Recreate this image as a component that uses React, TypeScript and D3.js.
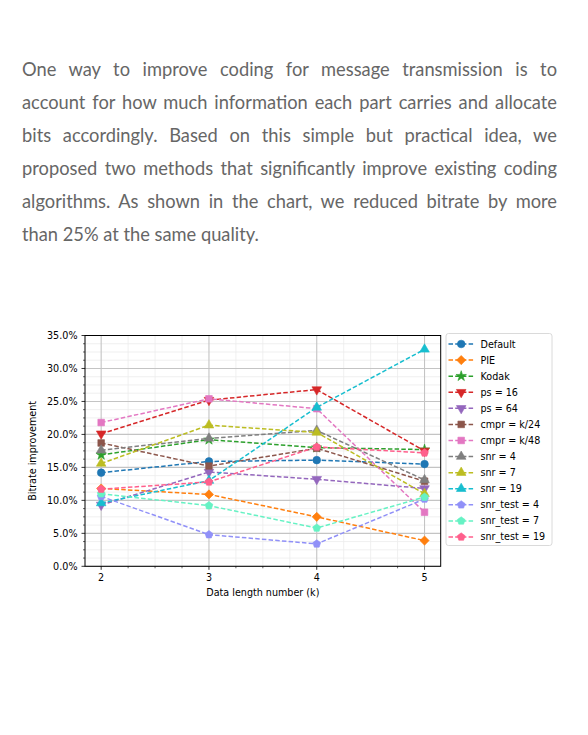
import React from "react";
import * as d3 from "d3";

const xValues = [2, 3, 4, 5];
const xTicks = [2, 3, 4, 5];
const yTicks = [0, 5, 10, 15, 20, 25, 30, 35];

const seriesNames = [
  "Default", "PIE", "Kodak", "ps = 16", "ps = 64", "cmpr = k/24", "cmpr = k/48",
  "snr = 4", "snr = 7", "snr = 19", "snr_test = 4", "snr_test = 7", "snr_test = 19",
];
const defaultVals = [14.2, 15.9, 16.1, 15.5];
const pieVals = [11.8, 10.9, 7.5, 3.9];
const kodakVals = [16.9, 19.2, 18.0, 17.7];
const ps16Vals = [20.1, 25.2, 26.8, 17.5];
const ps64Vals = [9.3, 14.3, 13.2, 11.8];
const cmpr24Vals = [18.7, 15.2, 17.9, 12.9];
const cmpr48Vals = [21.8, 25.4, 23.9, 8.2];
const snr4Vals = [17.6, 19.4, 20.6, 13.1];
const snr7Vals = [15.6, 21.4, 20.3, 11.0];
const snr19Vals = [9.6, 13.0, 24.1, 32.9];
const snrTest4Vals = [10.6, 4.8, 3.4, 10.2];
const snrTest7Vals = [11.0, 9.2, 5.8, 10.5];
const snrTest19Vals = [11.7, 12.8, 18.1, 17.2];

const seriesValues = [
  defaultVals, pieVals, kodakVals, ps16Vals, ps64Vals, cmpr24Vals, cmpr48Vals,
  snr4Vals, snr7Vals, snr19Vals, snrTest4Vals, snrTest7Vals, snrTest19Vals,
];
const seriesColors = [
  "#1f77b4", "#ff7f0e", "#2ca02c", "#d62728", "#9467bd", "#8c564b", "#e377c2",
  "#7f7f7f", "#bcbd22", "#17becf", "#9090f8", "#66f2c4", "#ff5f8c",
];
const seriesMarkers = [
  "circle", "diamond", "star", "tri-down", "tri-down", "square", "square",
  "tri-up", "tri-up", "tri-up", "pentagon", "pentagon", "pentagon",
];

const paragraphLines = [
  "One way to improve coding for message transmission is to",
  "account for how much information each part carries and allocate",
  "bits accordingly. Based on this simple but practical idea, we",
  "proposed two methods that significantly improve existing coding",
  "algorithms. As shown in the chart, we reduced bitrate by more",
  "than 25% at the same quality.",
];

function pentagonPath(r: number) {
  const pts: string[] = [];
  for (let i = 0; i < 5; i++) {
    const a = -Math.PI / 2 + (i * 2 * Math.PI) / 5;
    pts.push(`${(r * Math.cos(a)).toFixed(2)},${(r * Math.sin(a)).toFixed(2)}`);
  }
  return "M" + pts.join("L") + "Z";
}

function Marker({ kind, x, y, color }: { kind: string; x: number; y: number; color: string }) {
  let d = "";
  let rot = 0;
  if (kind === "circle") d = d3.symbol(d3.symbolCircle, 46)() as string;
  else if (kind === "diamond") { d = d3.symbol(d3.symbolSquare, 42)() as string; rot = 45; }
  else if (kind === "star") d = d3.symbol(d3.symbolStar, 34)() as string;
  else if (kind === "tri-down") { d = d3.symbol(d3.symbolTriangle, 40)() as string; rot = 180; }
  else if (kind === "tri-up") d = d3.symbol(d3.symbolTriangle, 40)() as string;
  else if (kind === "square") d = d3.symbol(d3.symbolSquare, 44)() as string;
  else if (kind === "pentagon") d = pentagonPath(4.1);
  return (
    <path d={d} transform={`translate(${x},${y}) rotate(${rot})`} fill={color} stroke={color} strokeWidth={0.6} />
  );
}

export default function App() {
  const left = 85, right = 440.7, top = 335.5, bottom = 566.3;
  const x = d3.scaleLinear().domain([1.85, 5.15]).range([left, right]);
  const y = d3.scaleLinear().domain([0, 35]).range([bottom, top]);
  const xMinor = d3.range(2, 5.15, 0.25).filter((v) => Math.abs(v - Math.round(v)) > 1e-6);
  const yMinor = d3.range(0, 35.01, 1.25).filter((v) => Math.abs(v / 5 - Math.round(v / 5)) > 1e-6);
  const line = d3.line<number>().x((_, i) => x(xValues[i])).y((v) => y(v));
  const font = "'DejaVu Sans', sans-serif";
  const fs = 9.6;
  const legendTop = 333.5, legendLeft = 446, legendW = 106, legendH = 212;

  return (
    <div style={{ position: "absolute", left: 0, top: 0, width: 588, height: 735, background: "#fff", overflow: "hidden" }}>
      <svg width={588} height={735} style={{ position: "absolute", left: 0, top: 0 }}>
        {/* minor grid */}
        {xMinor.map((v) => (
          <line key={"xm" + v} x1={x(v)} x2={x(v)} y1={top} y2={bottom} stroke="#ececec" strokeWidth={0.8} />
        ))}
        {yMinor.map((v) => (
          <line key={"ym" + v} x1={left} x2={right} y1={y(v)} y2={y(v)} stroke="#ececec" strokeWidth={0.8} />
        ))}
        {/* major grid */}
        {xTicks.map((v) => (
          <line key={"xg" + v} x1={x(v)} x2={x(v)} y1={top} y2={bottom} stroke="#c4c4c4" strokeWidth={1.1} />
        ))}
        {yTicks.map((v) => (
          <line key={"yg" + v} x1={left} x2={right} y1={y(v)} y2={y(v)} stroke="#c4c4c4" strokeWidth={1.1} />
        ))}
        {/* series */}
        {seriesValues.map((vals, si) => (
          <g key={"s" + si}>
            <path d={line(vals) as string} fill="none" stroke={seriesColors[si]} strokeWidth={1.5} strokeDasharray="4.5,2.2" />
            {vals.map((v, i) => (
              <Marker key={i} kind={seriesMarkers[si]} x={x(xValues[i])} y={y(v)} color={seriesColors[si]} />
            ))}
          </g>
        ))}
        {/* frame */}
        <rect x={left} y={top} width={right - left} height={bottom - top} fill="none" stroke="#000" strokeWidth={1} />
        {/* ticks */}
        {xTicks.map((v) => (
          <g key={"xt" + v}>
            <line x1={x(v)} x2={x(v)} y1={bottom} y2={bottom + 3.5} stroke="#000" strokeWidth={0.8} />
            <text x={x(v)} y={bottom + 14.5} textAnchor="middle" fontFamily={font} fontSize={fs} fill="#000">{v}</text>
          </g>
        ))}
        {xMinor.map((v) => (
          <line key={"xmt" + v} x1={x(v)} x2={x(v)} y1={bottom} y2={bottom + 2} stroke="#000" strokeWidth={0.6} />
        ))}
        {yTicks.map((v) => (
          <g key={"yt" + v}>
            <line x1={left} x2={left - 3.5} y1={y(v)} y2={y(v)} stroke="#000" strokeWidth={0.8} />
            <text x={left - 7.5} y={y(v) + 3.5} textAnchor="end" fontFamily={font} fontSize={fs} fill="#000">{v.toFixed(1)}%</text>
          </g>
        ))}
        {yMinor.map((v) => (
          <line key={"ymt" + v} x1={left} x2={left - 2} y1={y(v)} y2={y(v)} stroke="#000" strokeWidth={0.6} />
        ))}
        <text x={(left + right) / 2} y={bottom + 30} textAnchor="middle" fontFamily={font} fontSize={fs} fill="#000">Data length number (k)</text>
        <text transform={`translate(35.5,${(top + bottom) / 2}) rotate(-90)`} textAnchor="middle" fontFamily={font} fontSize={fs} fill="#000">Bitrate improvement</text>
        {/* legend */}
        <rect x={legendLeft} y={legendTop} width={legendW} height={legendH} rx={2.5} fill="#fff" fillOpacity={0.8} stroke="#d0d0d0" strokeWidth={0.8} />
        {seriesNames.map((name, i) => {
          const cy = 344 + i * 16.08;
          return (
            <g key={"lg" + i}>
              <line x1={448.5} x2={474} y1={cy} y2={cy} stroke={seriesColors[i]} strokeWidth={1.5} strokeDasharray="4.5,2.2" />
              <Marker kind={seriesMarkers[i]} x={461.2} y={cy} color={seriesColors[i]} />
              <text x={480.5} y={cy + 3.5} fontFamily={font} fontSize={fs} fill="#000">{name}</text>
            </g>
          );
        })}
      </svg>
      <div style={{ position: "absolute", left: 22, top: 53, width: 535, fontFamily: "Lato, sans-serif", fontSize: 18.3, lineHeight: "33px", color: "#666" }}>
        {paragraphLines.map((l, i) => (
          <div key={i} style={{ textAlign: "justify", textAlignLast: i < paragraphLines.length - 1 ? "justify" : "left", whiteSpace: "nowrap" }}>{l}</div>
        ))}
      </div>
    </div>
  );
}
